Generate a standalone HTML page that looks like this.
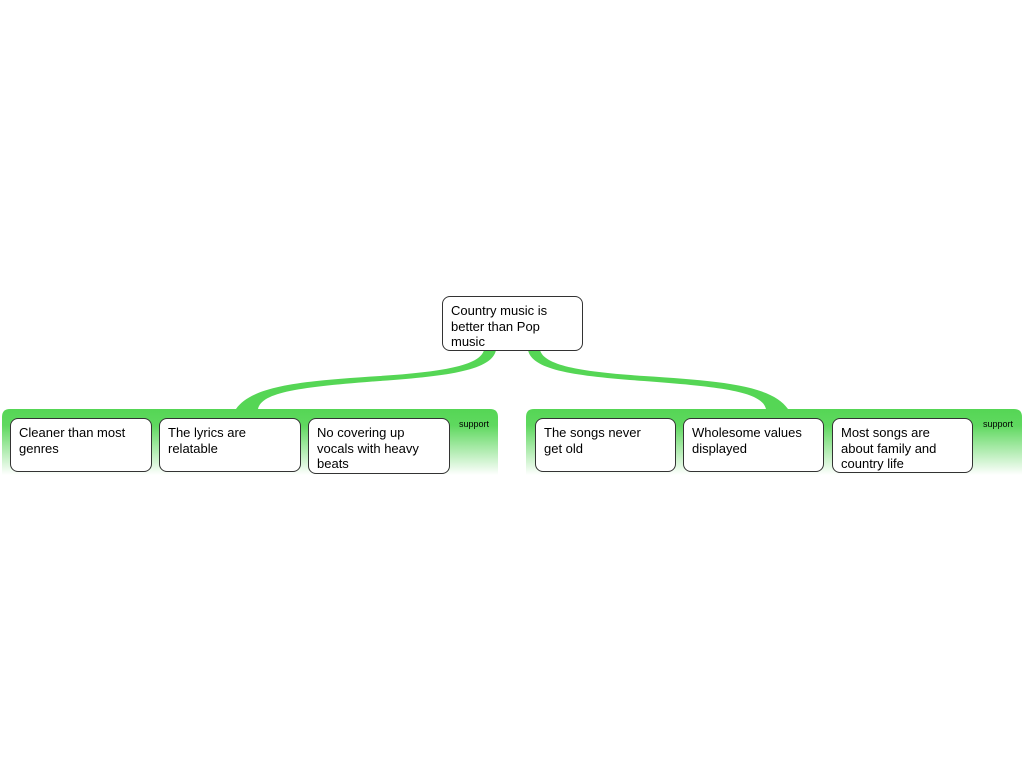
<!DOCTYPE html>
<html><head><style>
body{margin:0;background:#fff;width:1024px;height:768px;overflow:hidden;position:relative;font-family:"Liberation Sans",sans-serif}
.n{position:absolute;box-sizing:border-box;border:1px solid #333;border-radius:8px;background:#fff;font-size:13px;line-height:15.5px;color:#000;padding:6px 14px 6px 8px}
.s{position:absolute;font-size:9px;color:#000}
</style></head><body>
<svg width="1024" height="768" style="position:absolute;left:0;top:0">
<defs><linearGradient id="g" x1="0" y1="0" x2="0" y2="1">
<stop offset="0" stop-color="#55d655"/><stop offset="0.25" stop-color="#5fd85f"/><stop offset="1" stop-color="#ffffff"/></linearGradient></defs>
<path d="M2,475 L2,417 Q2,409 10,409 L490,409 Q498,409 498,417 L498,475 Z" fill="url(#g)"/>
<path d="M526,475 L526,417 Q526,409 534,409 L1014,409 Q1022,409 1022,417 L1022,475 Z" fill="url(#g)"/>
<path d="M484,350 C480,366 440,372 380,376 C300,381 252,386 236,409 L258,409 C262,392 300,387 380,381 C450,376 492,370 496,350 Z" fill="#55d655"/>
<path d="M540,350 C544,366 584,372 644,376 C724,381 772,386 788,409 L766,409 C762,392 724,387 644,381 C574,376 532,370 528,350 Z" fill="#55d655"/>
</svg>
<div class="n" style="left:442px;top:296px;width:141px;height:55px">Country music is better than Pop music</div>
<div class="n" style="left:10px;top:418px;width:142px;height:54px">Cleaner than most genres</div>
<div class="n" style="left:159px;top:418px;width:142px;height:54px">The lyrics are relatable</div>
<div class="n" style="left:308px;top:418px;width:142px;height:56px">No covering up vocals with heavy beats</div>
<div class="n" style="left:535px;top:418px;width:141px;height:54px">The songs never get old</div>
<div class="n" style="left:683px;top:418px;width:141px;height:54px">Wholesome values displayed</div>
<div class="n" style="left:832px;top:418px;width:141px;height:55px">Most songs are about family and country life</div>
<div class="s" style="left:459px;top:419px">support</div>
<div class="s" style="left:983px;top:419px">support</div>
</body></html>
